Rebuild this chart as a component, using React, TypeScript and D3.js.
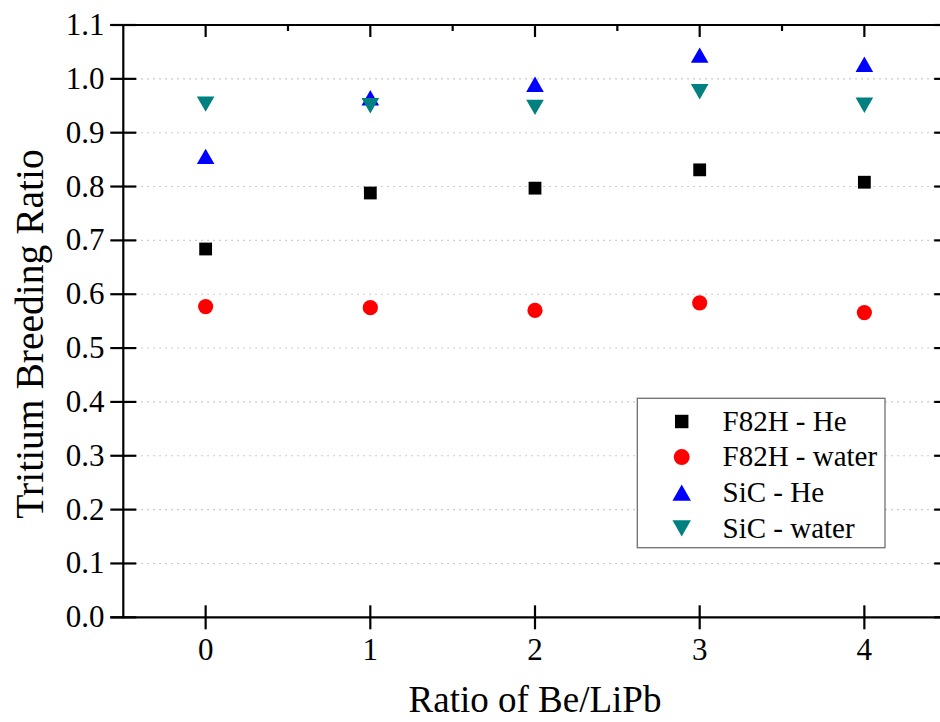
import React from "react";
import * as d3 from "d3";

const categories = [0, 1, 2, 3, 4];
const f82hHe = [0.684, 0.788, 0.797, 0.831, 0.808];
const f82hWater = [0.577, 0.575, 0.570, 0.584, 0.566];
const sicHe = [0.856, 0.965, 0.990, 1.044, 1.027];
const sicWater = [0.953, 0.950, 0.947, 0.976, 0.951];
const yTicks = [0, 0.1, 0.2, 0.3, 0.4, 0.5, 0.6, 0.7, 0.8, 0.9, 1.0, 1.1];
const xTicks = [0, 1, 2, 3, 4];
const seriesNames = ["F82H - He", "F82H - water", "SiC - He", "SiC - water"];

const W = 940;
const H = 722;
const X0 = 123.3, X1 = 946.7, Y0 = 617.3, Y1 = 25;
const FONT = '"Liberation Serif", "Times New Roman", Times, serif';

type Shape = "square" | "circle" | "up" | "down";

function Marker({ shape, cx, cy, color, s = 1 }: { shape: Shape; cx: number; cy: number; color: string; s?: number }) {
  if (shape === "square") {
    const a = 12.8 * s;
    return <rect x={cx - a / 2} y={cy - a / 2} width={a} height={a} fill={color} />;
  }
  if (shape === "circle") {
    return <circle cx={cx} cy={cy} r={7.6 * s} fill={color} />;
  }
  const w = 17.6 * s, h = 15.4 * s;
  if (shape === "up") {
    return <path d={`M${cx},${cy - h / 2}L${cx + w / 2},${cy + h / 2}L${cx - w / 2},${cy + h / 2}Z`} fill={color} />;
  }
  return <path d={`M${cx - w / 2},${cy - h / 2}L${cx + w / 2},${cy - h / 2}L${cx},${cy + h / 2}Z`} fill={color} />;
}

const txt = { fontFamily: FONT };

export default function App() {
  const x = d3.scaleLinear().domain([-0.5, 4.5]).range([X0, X1]);
  const y = d3.scaleLinear().domain([0, 1.1]).range([Y0, Y1]);

  const series: { name: string; values: number[]; shape: Shape; color: string }[] = [
    { name: seriesNames[0], values: f82hHe, shape: "square", color: "#000000" },
    { name: seriesNames[1], values: f82hWater, shape: "circle", color: "#ff0000" },
    { name: seriesNames[2], values: sicHe, shape: "up", color: "#0000ff" },
    { name: seriesNames[3], values: sicWater, shape: "down", color: "#008080" },
  ];

  const topMinor = [0.5, 1.5, 2.5, 3.5];
  const rightMinor = d3.range(0.05, 1.1, 0.1);

  const legX = 637.3, legY = 398.3, legW = 247.7, legH = 149.4;

  return (
    <svg width={W} height={H} style={{ position: "absolute", left: 0, top: 0, background: "#fff", fontFamily: FONT }}>
      <rect x={0} y={0} width={W} height={H} fill="#fff" />
      {yTicks.filter((v) => v > 0.05 && v < 1.05).map((v) => (
        <line key={"g" + v} x1={X0} x2={X1} y1={y(v)} y2={y(v)} stroke="#bcbcbc" strokeWidth={1.1} strokeDasharray="1.5 4.5" />
      ))}
      {series.map((s) =>
        s.values.map((v, i) => (
          <Marker key={s.name + i} shape={s.shape} cx={x(categories[i])} cy={y(v)} color={s.color} />
        ))
      )}
      <g stroke="#000" strokeWidth={2.2} fill="none">
        <line x1={X0} x2={X0} y1={Y1 - 1} y2={Y0 + 1} />
        <line x1={X1} x2={X1} y1={Y1 - 1} y2={Y0 + 1} />
        <line x1={X0 - 13} x2={X1} y1={Y0} y2={Y0} />
        <line x1={X0 - 13} x2={X1} y1={Y1} y2={Y1} />
        {yTicks.map((v) => (
          <line key={"lt" + v} x1={X0 - 13} x2={X0 + 13} y1={y(v)} y2={y(v)} />
        ))}
        {yTicks.map((v) => (
          <line key={"rt" + v} x1={X1 - 12.5} x2={X1} y1={y(v)} y2={y(v)} />
        ))}
        {rightMinor.map((v) => (
          <line key={"rm" + v} x1={X1 - 6} x2={X1} y1={y(v)} y2={y(v)} />
        ))}
        {xTicks.map((v) => (
          <line key={"bt" + v} x1={x(v)} x2={x(v)} y1={Y0 - 12} y2={Y0 + 12} />
        ))}
        {xTicks.map((v) => (
          <line key={"tt" + v} x1={x(v)} x2={x(v)} y1={Y1} y2={Y1 + 12} />
        ))}
        {topMinor.map((v) => (
          <line key={"tm" + v} x1={x(v)} x2={x(v)} y1={Y1} y2={Y1 + 6} />
        ))}
      </g>
      {yTicks.map((v) => (
        <text key={"yl" + v} x={104.5} y={y(v) + 10} textAnchor="end" fontSize={31} fill="#000" style={txt}>
          {d3.format(".1f")(v)}
        </text>
      ))}
      {xTicks.map((v) => (
        <text key={"xl" + v} x={x(v)} y={660} textAnchor="middle" fontSize={31} fill="#000" style={txt}>
          {String(v)}
        </text>
      ))}
      <text x={535} y={712} textAnchor="middle" fontSize={37} fill="#000" style={txt}>Ratio of Be/LiPb</text>
      <text transform={`translate(43,334) rotate(-90)`} textAnchor="middle" fontSize={39.5} fill="#000" style={txt}>Tritium Breeding Ratio</text>
      <rect x={legX} y={legY} width={legW} height={legH} fill="#fff" stroke="#707070" strokeWidth={1.3} />
      {series.map((s, i) => {
        const cy = 421.5 + i * 35.6;
        return (
          <g key={"lg" + i}>
            <Marker shape={s.shape} cx={681.7} cy={cy} color={s.color} s={1.05} />
            <text x={722.5} y={cy + 9.2} fontSize={29} fill="#000" style={txt}>{s.name}</text>
          </g>
        );
      })}
    </svg>
  );
}
